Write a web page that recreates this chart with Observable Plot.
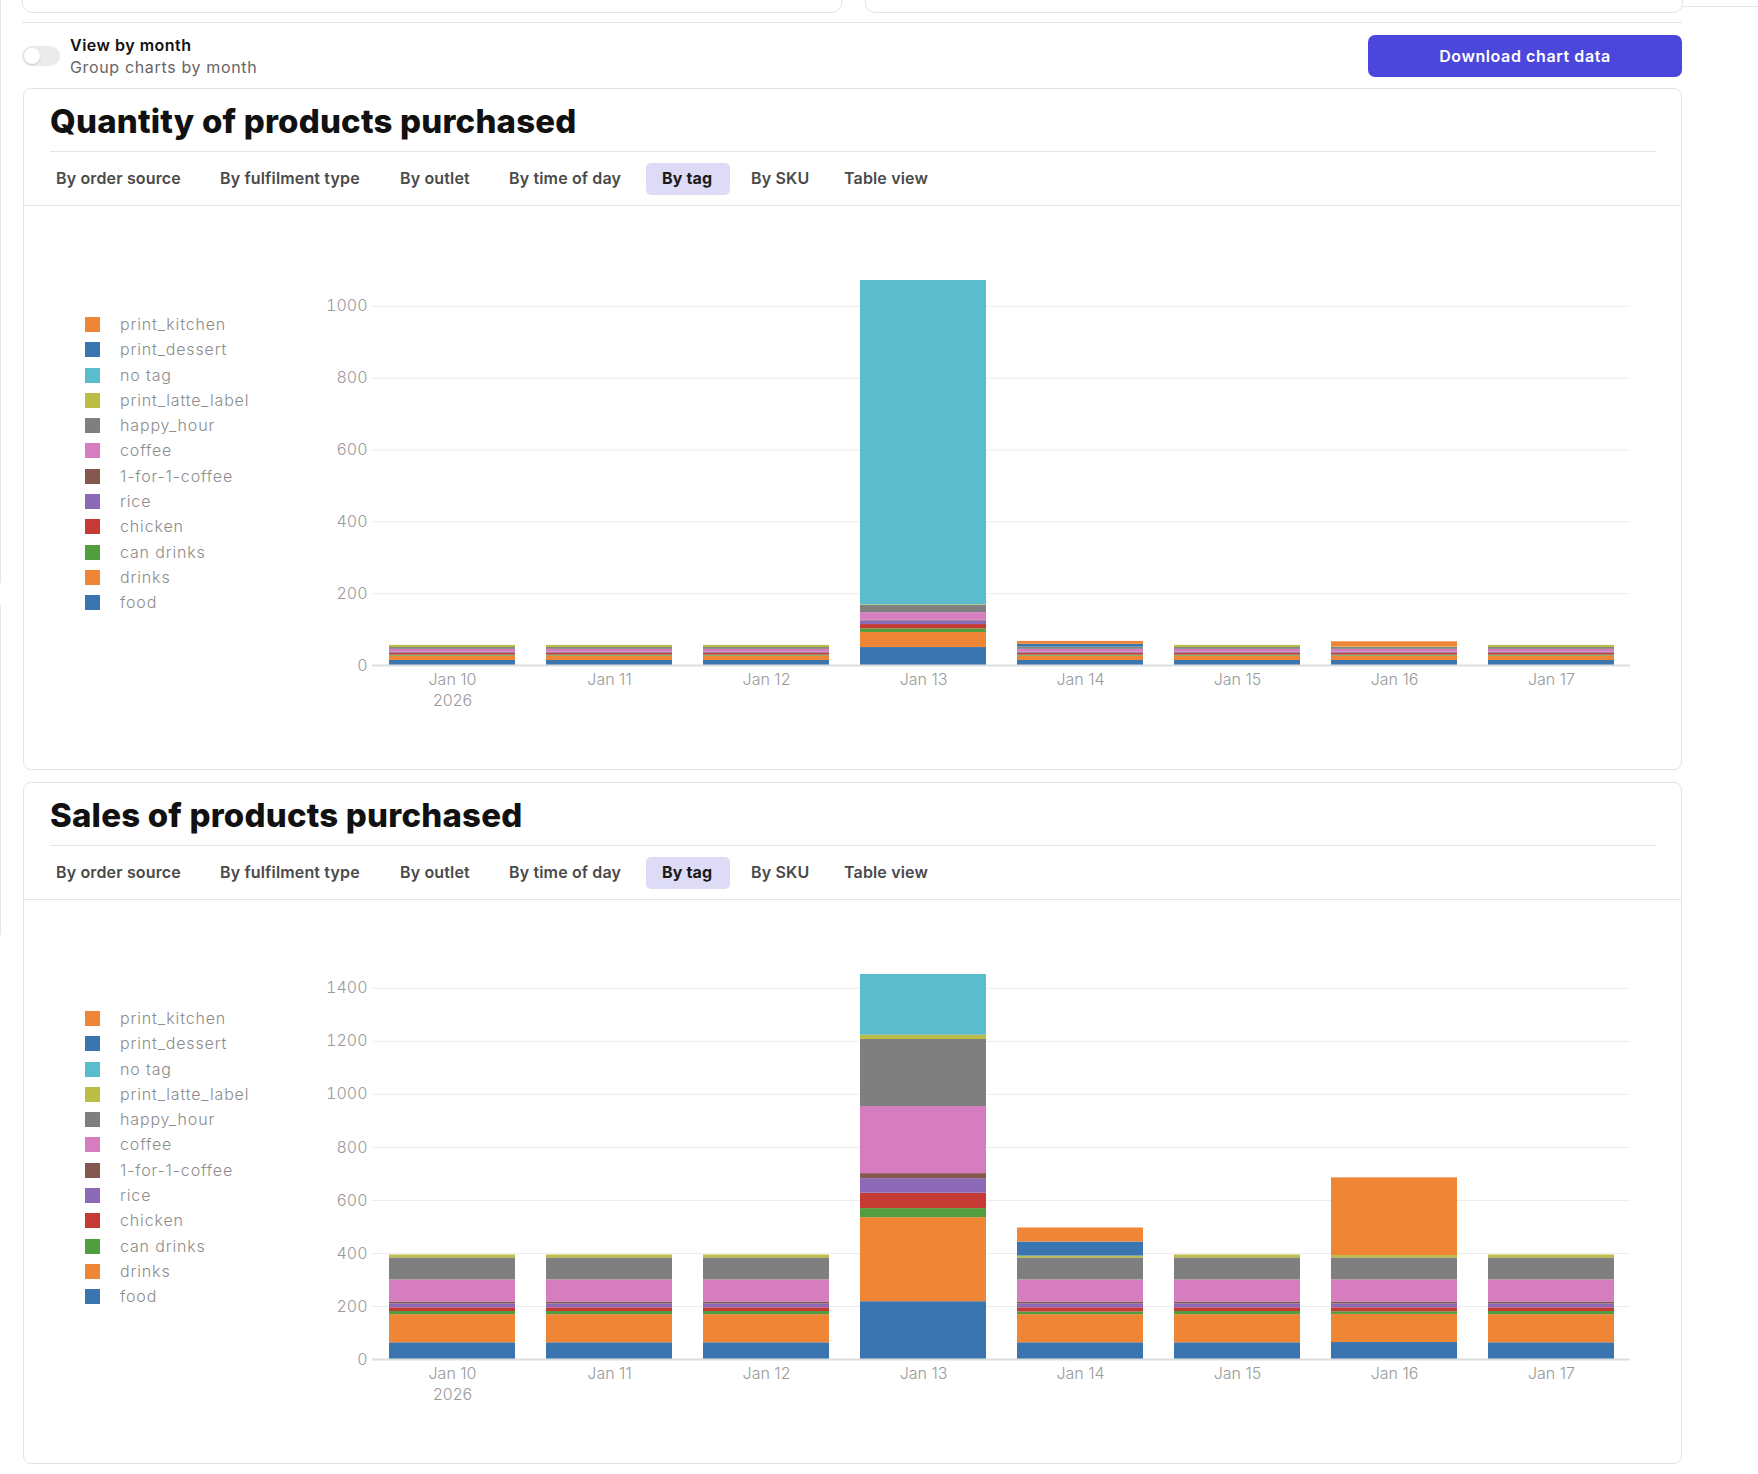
<!DOCTYPE html>
<html>
<head>
<meta charset="utf-8">
<script src="https://cdn.jsdelivr.net/npm/d3@7"></script>
<script src="https://cdn.jsdelivr.net/npm/@observablehq/plot@0.6"></script>
<style>
  html, body { margin: 0; padding: 0; background: #fff; }
  body { width: 1758px; height: 1474px; position: relative; overflow: hidden; font-family: Inter, "Open Sans", sans-serif; }
  .abs { position: absolute; }
  .card { position: absolute; left: 23px; width: 1657px; height: 680px; border: 1px solid #e3e3e3; border-radius: 8px; background: #fff; }
  .title { position: absolute; left: 26px; top: 12px; font-size: 33px; font-weight: 800; color: #111; letter-spacing: 0.2px; line-height: 40px; white-space: nowrap; }
  .hline { position: absolute; height: 1px; background: #e6e6e6; }
  .tab { position: absolute; top: 77px; height: 24px; line-height: 24px; font-size: 16px; font-weight: 600; color: #4a4a4a; white-space: nowrap; letter-spacing: 0.15px; }
  .pill { position: absolute; top: 74px; height: 32px; border-radius: 5px; background: #dddbf6; }
  .legend { position: absolute; left: 61px; top: 226px; }
  .lrow { position: relative; height: 25.3px; }
  .sw { position: absolute; left: 0; top: 2px; width: 15px; height: 15px; }
  .lt { position: absolute; left: 35px; top: -1px; white-space: nowrap; font-size: 16px; font-weight: 300; color: #8c8c8c; line-height: 20px; letter-spacing: 0.85px; }
  .chart { position: absolute; left: 7px; top: 122px; }
</style>
</head>
<body>
<div id="root"></div>
<script>
// ---------- data ----------
const days = ["Jan 10", "Jan 11", "Jan 12", "Jan 13", "Jan 14", "Jan 15", "Jan 16", "Jan 17"];
const yearLabel = "2026";
// stack order, bottom to top
const tags = ["food", "drinks", "can drinks", "chicken", "rice", "1-for-1-coffee", "coffee", "happy_hour", "print_latte_label", "no tag", "print_dessert", "print_kitchen"];
const tagColors = ["#3b75af", "#ef8636", "#519e3e", "#c53a32", "#8d6ab8", "#84584e", "#d57dbf", "#7f7f7f", "#bcbd45", "#5bbccc", "#3b75af", "#ef8636"];

// Quantity of products purchased
const qtyFood        = [14, 14, 14, 50, 14, 14, 14, 14];
const qtyDrinks      = [12, 12, 12, 42, 12, 12, 12, 12];
const qtyCanDrinks   = [3, 3, 3, 10, 3, 3, 3, 3];
const qtyChicken     = [5, 5, 5, 12, 5, 5, 5, 5];
const qtyRice        = [2, 2, 2, 10, 2, 2, 2, 2];
const qtyOneForOne   = [1, 1, 1, 2, 1, 1, 1, 1];
const qtyCoffee      = [8, 8, 8, 21, 8, 8, 8, 8];
const qtyHappyHour   = [5, 5, 5, 20, 5, 5, 5, 5];
const qtyLatteLabel  = [6, 6, 6, 2, 1, 6, 2, 6];
const qtyNoTag       = [0, 0, 0, 903, 0, 0, 0, 0];
const qtyDessert     = [0, 0, 0, 0, 8, 0, 0, 0];
const qtyKitchen     = [0, 0, 0, 0, 8, 0, 14, 0];
const qtyTicks = [0, 200, 400, 600, 800, 1000];

// Sales of products purchased
const salesFood       = [63, 63, 63, 218, 63, 63, 64, 63];
const salesDrinks     = [106, 106, 106, 317, 106, 106, 106, 106];
const salesCanDrinks  = [12, 12, 12, 34, 10, 12, 10, 12];
const salesChicken    = [14, 14, 14, 58, 16, 14, 15, 14];
const salesRice       = [15, 15, 15, 55, 15, 15, 15, 15];
const salesOneForOne  = [7, 7, 7, 19, 7, 7, 7, 7];
const salesCoffee     = [83, 83, 83, 253, 83, 83, 83, 83];
const salesHappyHour  = [83, 83, 83, 253, 83, 83, 83, 83];
const salesLatteLabel = [11, 11, 11, 16, 7, 11, 9, 11];
const salesNoTag      = [0, 0, 0, 229, 0, 0, 0, 0];
const salesDessert    = [0, 0, 0, 0, 53, 0, 0, 0];
const salesKitchen    = [0, 0, 0, 0, 53, 0, 293, 0];
const salesTicks = [0, 200, 400, 600, 800, 1000, 1200, 1400];

const qtySeries = [qtyFood, qtyDrinks, qtyCanDrinks, qtyChicken, qtyRice, qtyOneForOne, qtyCoffee, qtyHappyHour, qtyLatteLabel, qtyNoTag, qtyDessert, qtyKitchen];
const salesSeries = [salesFood, salesDrinks, salesCanDrinks, salesChicken, salesRice, salesOneForOne, salesCoffee, salesHappyHour, salesLatteLabel, salesNoTag, salesDessert, salesKitchen];

const tabLabels = ["By order source", "By fulfilment type", "By outlet", "By time of day", "By tag", "By SKU", "Table view"];
const activeTab = "By tag";

// ---------- chrome ----------
const root = document.getElementById("root");
function el(tag, cls, style, text) {
  const e = document.createElement(tag);
  if (cls) e.className = cls;
  if (style) Object.assign(e.style, style);
  if (text != null) e.textContent = text;
  return e;
}
// top partial cards & lines
root.append(el("div", "abs", {left: "22px", top: "-20px", width: "818px", height: "31px", border: "1px solid #e3e3e3", borderRadius: "0 0 10px 10px"}));
root.append(el("div", "abs", {left: "865px", top: "-20px", width: "816px", height: "31px", border: "1px solid #e3e3e3", borderRadius: "0 0 10px 10px"}));
root.append(el("div", "abs", {left: "22px", top: "22px", width: "1660px", height: "1px", background: "#e6e6e6"}));
root.append(el("div", "abs", {left: "1682px", top: "6px", width: "76px", height: "1px", background: "#e6e6e6"}));
root.append(el("div", "abs", {left: "0px", top: "0px", width: "1px", height: "583px", background: "#e6e6e6"}));
root.append(el("div", "abs", {left: "0px", top: "605px", width: "1px", height: "330px", background: "#e6e6e6"}));

// toggle
const tog = el("div", "abs", {left: "22px", top: "46px", width: "38px", height: "20px", borderRadius: "10px", background: "#ebebeb"});
tog.append(el("div", "abs", {left: "2px", top: "2px", width: "16px", height: "16px", borderRadius: "8px", background: "#fff", boxShadow: "0 1px 2px rgba(0,0,0,0.15)"}));
root.append(tog);
root.append(el("div", "abs", {left: "70px", top: "34px", fontSize: "16px", fontWeight: "600", color: "#111", lineHeight: "22px", letterSpacing: "0.5px"}, "View by month"));
root.append(el("div", "abs", {left: "70px", top: "56px", fontSize: "16px", fontWeight: "400", color: "#666", lineHeight: "22px", letterSpacing: "0.65px"}, "Group charts by month"));

// download button
root.append(el("div", "abs", {left: "1368px", top: "35px", width: "314px", height: "42px", borderRadius: "7px", background: "#4c47dc", color: "#fff", fontSize: "16px", fontWeight: "600", textAlign: "center", lineHeight: "42px", letterSpacing: "0.6px"}, "Download chart data"));

const tabX = [32, 196, 376, 485, 638, 727, 820];
const pillX = [622, 706];

function chart(series, ticks) {
  const rows = tags.flatMap((t, k) => days.map((d, i) => ({day: d, tag: t, value: series[k][i]})));
  return Plot.plot({
    width: 1620,
    height: 550,
    marginLeft: 341,
    marginRight: 21,
    marginTop: 69,
    marginBottom: 96,
    style: {fontFamily: "Inter, 'Open Sans', sans-serif", fontSize: "16px", color: "#9a9a9a", background: "transparent", overflow: "visible"},
    x: {domain: days, paddingInner: 0.2, paddingOuter: 0.1, label: null},
    y: {label: null},
    color: {domain: tags, range: tagColors},
    marks: [
      Plot.gridY(ticks, {stroke: "#ececec", strokeOpacity: 1, strokeWidth: 1}),
      Plot.barY(rows, {x: "day", y: "value", fill: "tag", order: tags}),
      Plot.ruleY([0], {stroke: "#dedede", strokeWidth: 2}),
      Plot.axisY(ticks, {tickSize: 0, tickPadding: 5, label: null, fontWeight: 300, fill: "#9a9a9a", tickFormat: d => String(d)}),
      Plot.axisX({tickSize: 0, tickPadding: 4, label: null, fontWeight: 300, fill: "#9a9a9a", lineHeight: 1.35,
        tickFormat: d => d === days[0] ? d + "\n" + yearLabel : d})
    ]
  });
}

function card(top, titleText, series, ticks) {
  const c = el("div", "card", {top: top + "px"});
  c.append(el("div", "title", null, titleText));
  c.append(el("div", "hline", {left: "26px", top: "62px", width: "1606px"}));
  c.append(el("div", "pill", {left: pillX[0] + "px", width: (pillX[1] - pillX[0]) + "px"}));
  tabLabels.forEach((t, i) => {
    const tb = el("div", "tab", {left: tabX[i] + "px"}, t);
    if (t === activeTab) { tb.style.color = "#1a1a1a"; tb.style.fontWeight = "700"; }
    c.append(tb);
  });
  c.append(el("div", "hline", {left: "0px", top: "116px", width: "1657px"}));
  const cw = el("div", "chart");
  cw.append(chart(series, ticks));
  c.append(cw);
  const lg = el("div", "legend");
  tags.slice().reverse().forEach((t, j) => {
    const k = tags.length - 1 - j;
    const r = el("div", "lrow");
    r.append(el("div", "sw", {background: tagColors[k]}));
    r.append(el("div", "lt", null, t));
    lg.append(r);
  });
  c.append(lg);
  root.append(c);
}

card(88, "Quantity of products purchased", qtySeries, qtyTicks);
card(782, "Sales of products purchased", salesSeries, salesTicks);
</script>
</body>
</html>
